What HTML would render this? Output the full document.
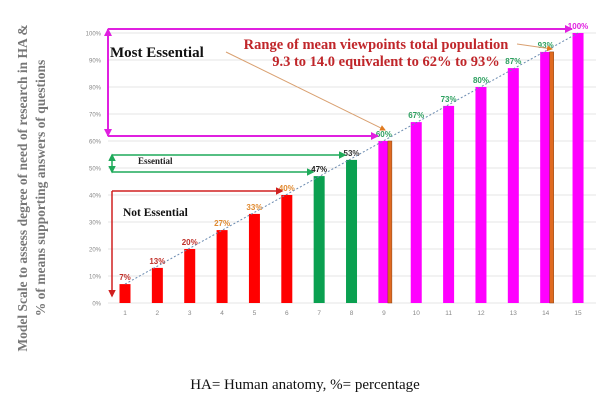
<!DOCTYPE html>
<html><head><meta charset="utf-8">
<style>
body{margin:0;background:#fff;}
svg{display:block;font-family:"Liberation Sans",sans-serif;}
</style></head>
<body>
<svg id="chart" width="612" height="403" viewBox="0 0 612 403">
<defs>
<marker id="am" markerWidth="4" markerHeight="4" refX="3.5" refY="2" orient="auto-start-reverse"><path d="M0,0L4,2L0,4z" fill="#e020e0"/></marker>
<marker id="ag" markerWidth="5" markerHeight="5" refX="4" refY="2.5" orient="auto-start-reverse"><path d="M0,0L5,2.5L0,5z" fill="#1faa5a"/></marker>
<marker id="ar" markerWidth="5" markerHeight="5" refX="4" refY="2.5" orient="auto-start-reverse"><path d="M0,0L5,2.5L0,5z" fill="#d02020"/></marker>
<marker id="ao" markerWidth="6" markerHeight="6" refX="5" refY="3" orient="auto"><path d="M0,0L6,3L0,6z" fill="#e07b20"/></marker>
</defs>
<g id="grid"></g><g id="bars"></g><g id="labels"></g>
<g transform="translate(31,188) rotate(-90)" font-family="Liberation Serif,serif" font-weight="bold" font-size="13.5" fill="#777" text-anchor="middle">
<text y="-4">Model Scale to assess degree of need of research in HA &amp;</text>
<text y="14">% of means supporting  answers of  questions</text>
</g>
<g stroke="#e020e0" stroke-width="2" fill="none">
<line x1="108" y1="29" x2="572" y2="29" marker-end="url(#am)"/>
<line x1="108" y1="29" x2="108" y2="136" marker-start="url(#am)" marker-end="url(#am)"/>
<line x1="108" y1="136" x2="378" y2="136" marker-end="url(#am)"/>
</g>
<g stroke="#1faa5a" stroke-width="1.5" fill="none">
<line x1="112" y1="155" x2="345" y2="155" marker-end="url(#ag)"/>
<line x1="112" y1="155" x2="112" y2="172" marker-start="url(#ag)" marker-end="url(#ag)"/>
<line x1="112" y1="172" x2="313" y2="172" marker-end="url(#ag)"/>
</g>
<g stroke="#d02020" stroke-width="1.5" fill="none">
<line x1="112" y1="191" x2="282" y2="191" marker-end="url(#ar)"/>
<line x1="112" y1="191" x2="112" y2="296" marker-end="url(#ar)"/>
</g>
<text x="110" y="57" font-family="Liberation Serif,serif" font-weight="bold" font-size="15" fill="#111">Most Essential</text>
<text x="138" y="164" font-family="Liberation Serif,serif" font-weight="bold" font-size="9" fill="#222">Essential</text>
<text x="123" y="216" font-family="Liberation Serif,serif" font-weight="bold" font-size="11.5" fill="#111">Not Essential</text>
<g font-family="Liberation Serif,serif" font-weight="bold" font-size="14.5" fill="#c0262a" text-anchor="middle">
<text x="376" y="49">Range of mean viewpoints total population</text>
<text x="386" y="66">9.3 to 14.0 equivalent to 62% to 93%</text>
</g>
<line x1="226" y1="52" x2="385" y2="130" stroke="#d9a070" stroke-width="1" marker-end="url(#ao)"/>
<line x1="517" y1="44" x2="552" y2="49" stroke="#d9a070" stroke-width="1" marker-end="url(#ao)"/>
<text x="305" y="389" text-anchor="middle" font-family="Liberation Serif,serif" font-size="15" fill="#111">HA= Human anatomy, %= percentage</text>
</svg>
<script>
const categories=[1,2,3,4,5,6,7,8,9,10,11,12,13,14,15];
const values=[7,13,20,27,33,40,47,53,60,67,73,80,87,93,100];
const barColors=["#f00","#f00","#f00","#f00","#f00","#f00","#0aa050","#0aa050","#f0f","#f0f","#f0f","#f0f","#f0f","#f0f","#f0f"];
const labelColors=["#c0302a","#c0302a","#c0302a","#e08a30","#e08a30","#e08a30","#222","#333","#2ea060","#2ea060","#2ea060","#2ea060","#2ea060","#2ea060","#e020e0"];
const highlighted=[9,14];
const yTicks=[0,10,20,30,40,50,60,70,80,90,100];
const NS="http://www.w3.org/2000/svg";
const y=v=>303-v*2.7;
const x=c=>125+(c-1)*32.36;
function mk(t,a,p){const e=document.createElementNS(NS,t);for(const k in a)e.setAttribute(k,a[k]);p.appendChild(e);return e;}
const grid=document.getElementById('grid'),bars=document.getElementById('bars'),labels=document.getElementById('labels');
yTicks.forEach(t=>{
 const l=mk('line',{x1:108,x2:596,y1:y(t),y2:y(t),stroke:'#e4e4e4','stroke-width':1},grid);
 
 
 const tx=mk('text',{x:101,y:y(t)+2.5,'text-anchor':'end','font-size':6,fill:'#888'},grid);
 tx.textContent=t+'%';
 
 
});
categories.forEach((c,i)=>{
 const tx=mk('text',{x:x(c),y:315,'text-anchor':'middle','font-size':6.5,fill:'#888'},grid);
 tx.textContent=c;
 
 
 const r=mk('rect',{x:x(c)-5.5,y:y(values[i]),width:11,height:y(0)-y(values[i]),fill:barColors[i]},bars);
 
 
 if(highlighted.includes(c)){
  const o=mk('rect',{x:x(c)+4,y:y(values[i]),width:4,height:y(0)-y(values[i]),fill:'#e06a20',stroke:'#8a4010','stroke-width':0.5},bars);
  
  
 }
 const lb=mk('text',{x:x(c),y:y(values[i])-4,'text-anchor':'middle','font-size':8,'font-weight':'bold',fill:labelColors[i]},labels);
 lb.textContent=values[i]+'%';
 
 
});
const tr=mk('line',{x1:x(1),y1:y(values[0]),x2:x(15),y2:y(values[14]),stroke:'#6a8ab0','stroke-width':1,'stroke-dasharray':'2,2'},labels);


</script>
</body></html>
